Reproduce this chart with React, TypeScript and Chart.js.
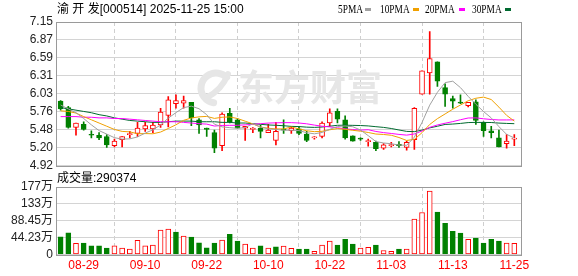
import React, { useEffect, useRef } from 'react';
import { Chart, registerables } from 'chart.js';
Chart.register(...registerables);

// ---- data ----
const opens = [5.92, 5.82, 5.51, 5.56, 5.40, 5.39, 5.37, 5.23, 5.32, 5.40, 5.42, 5.49, 5.49, 5.55, 5.70, 5.88, 5.89, 5.90, 5.63, 5.50, 5.43, 5.23, 5.73, 5.63, 5.50, 5.48, 5.50, 5.43, 5.31, 5.48, 5.46, 5.49, 5.41, 5.35, 5.37, 5.58, 5.76, 5.63, 5.38, 5.34, 5.29, 5.28, 5.19, 5.23, 5.25, 5.20, 5.32, 6.03, 6.36, 6.53, 6.13, 5.96, 5.90, 5.85, 5.91, 5.59, 5.46, 5.35, 5.26, 5.33];
const highs = [5.93, 5.84, 5.58, 5.60, 5.46, 5.43, 5.40, 5.33, 5.37, 5.45, 5.59, 5.59, 5.59, 5.81, 5.99, 6.02, 6.00, 5.90, 5.65, 5.50, 5.47, 5.74, 5.81, 5.65, 5.53, 5.51, 5.55, 5.56, 5.59, 5.63, 5.53, 5.52, 5.45, 5.37, 5.60, 5.80, 5.80, 5.69, 5.38, 5.35, 5.33, 5.30, 5.26, 5.28, 5.29, 5.30, 5.82, 6.39, 7.00, 6.53, 6.19, 6.00, 6.02, 5.90, 5.94, 5.60, 5.53, 5.47, 5.40, 5.40];
const lows = [5.78, 5.50, 5.39, 5.47, 5.35, 5.32, 5.20, 5.21, 5.21, 5.35, 5.37, 5.45, 5.43, 5.51, 5.52, 5.81, 5.81, 5.54, 5.42, 5.37, 5.12, 5.15, 5.58, 5.50, 5.31, 5.43, 5.35, 5.43, 5.24, 5.42, 5.42, 5.40, 5.29, 5.33, 5.35, 5.53, 5.58, 5.33, 5.30, 5.31, 5.22, 5.15, 5.17, 5.21, 5.20, 5.16, 5.17, 6.03, 6.03, 6.15, 5.84, 5.81, 5.88, 5.83, 5.56, 5.37, 5.35, 5.21, 5.19, 5.23];
const closes = [5.80, 5.51, 5.58, 5.48, 5.39, 5.35, 5.24, 5.30, 5.37, 5.41, 5.50, 5.54, 5.55, 5.75, 5.94, 5.93, 5.93, 5.66, 5.55, 5.48, 5.19, 5.72, 5.60, 5.50, 5.53, 5.50, 5.45, 5.47, 5.45, 5.47, 5.50, 5.42, 5.31, 5.36, 5.58, 5.74, 5.64, 5.35, 5.30, 5.33, 5.30, 5.18, 5.24, 5.24, 5.23, 5.28, 5.81, 6.39, 6.58, 6.23, 6.03, 5.92, 5.89, 5.90, 5.62, 5.46, 5.43, 5.21, 5.30, 5.34];

const ma5 = [5.86, 5.80, 5.74, 5.65, 5.552, 5.462, 5.408, 5.352, 5.33, 5.334, 5.364, 5.424, 5.474, 5.55, 5.656, 5.742, 5.82, 5.842, 5.802, 5.71, 5.562, 5.52, 5.508, 5.498, 5.508, 5.57, 5.516, 5.49, 5.48, 5.468, 5.468, 5.462, 5.43, 5.412, 5.434, 5.482, 5.526, 5.534, 5.522, 5.472, 5.384, 5.292, 5.27, 5.258, 5.238, 5.234, 5.36, 5.59, 5.858, 6.058, 6.208, 6.23, 6.13, 5.994, 5.872, 5.758, 5.66, 5.524, 5.404, 5.348];
const ma10 = [5.77, 5.76, 5.735, 5.68, 5.63, 5.58, 5.53, 5.48, 5.45, 5.443, 5.413, 5.416, 5.413, 5.44, 5.495, 5.553, 5.622, 5.658, 5.676, 5.683, 5.652, 5.67, 5.675, 5.65, 5.609, 5.566, 5.518, 5.499, 5.489, 5.488, 5.519, 5.489, 5.46, 5.446, 5.451, 5.475, 5.494, 5.482, 5.467, 5.453, 5.433, 5.409, 5.402, 5.39, 5.355, 5.309, 5.326, 5.43, 5.558, 5.648, 5.721, 5.795, 5.86, 5.926, 5.965, 5.983, 5.945, 5.827, 5.699, 5.61];
const ma20 = [5.68, 5.68, 5.68, 5.67, 5.67, 5.66, 5.66, 5.65, 5.65, 5.64, 5.63, 5.62, 5.61, 5.60, 5.60, 5.60, 5.59, 5.58, 5.57, 5.563, 5.533, 5.543, 5.544, 5.545, 5.552, 5.56, 5.57, 5.579, 5.583, 5.586, 5.586, 5.58, 5.568, 5.548, 5.53, 5.52, 5.506, 5.49, 5.478, 5.47, 5.476, 5.449, 5.431, 5.418, 5.403, 5.392, 5.41, 5.456, 5.513, 5.55, 5.577, 5.602, 5.631, 5.658, 5.66, 5.646, 5.635, 5.628, 5.628, 5.629];
const ma30 = [5.82, 5.80, 5.78, 5.76, 5.74, 5.71, 5.69, 5.66, 5.64, 5.62, 5.61, 5.60, 5.59, 5.59, 5.60, 5.61, 5.61, 5.61, 5.60, 5.60, 5.60, 5.59, 5.59, 5.58, 5.58, 5.57, 5.56, 5.55, 5.545, 5.538, 5.528, 5.525, 5.516, 5.512, 5.518, 5.531, 5.545, 5.546, 5.544, 5.541, 5.535, 5.523, 5.512, 5.495, 5.472, 5.45, 5.446, 5.47, 5.505, 5.53, 5.558, 5.564, 5.574, 5.587, 5.59, 5.589, 5.588, 5.579, 5.574, 5.57];

// volume in 万
const volumes = [46, 57, 29, 30, 23, 23, 17, 23, 17, 14, 37, 23, 24.5, 64, 66.5, 58.6, 48, 45.5, 30.5, 17.4, 30, 37.6, 53, 35, 27, 17, 23, 17, 20, 22, 16, 14, 14, 8, 24.5, 35, 24.5, 40, 27, 16.6, 19, 24.5, 10.5, 8, 14, 14, 93, 110, 166, 111, 82, 61, 56, 40, 43, 30, 40, 35, 30, 29.04];
const volUp = [0, 0, 1, 0, 0, 0, 0, 1, 1, 1, 1, 1, 1, 1, 1, 0, 1, 0, 0, 0, 0, 1, 0, 0, 1, 1, 0, 1, 0, 1, 1, 0, 0, 1, 1, 1, 0, 0, 0, 1, 1, 0, 1, 1, 0, 1, 1, 1, 1, 0, 0, 0, 0, 1, 0, 0, 0, 0, 1, 1];

const dateTickIdx = [3, 11, 19, 27, 35, 43, 51, 59];
const dateTickLabels = ['08-29', '09-10', '09-22', '10-10', '10-22', '11-03', '11-13', '11-25'];

const priceTickValues = [4.92, 5.19875, 5.4775, 5.75625, 6.035, 6.31375, 6.5925, 6.87125, 7.15];
const priceTickLabels = ['4.92', '5.20', '5.48', '5.76', '6.03', '6.31', '6.59', '6.87', '7.15'];

const volTickValues = [0, 44.23, 88.46, 132.69, 176.92];
const volTickLabels = ['0', '44.23万', '88.45万', '133万', '177万'];

const maLabels = ['5PMA', '10PMA', '20PMA', '30PMA'];
const maColors = ['#a0a0a0', '#f0a000', '#ff00ff', '#006a30'];

const RED = '#ff0000';
const GREEN = '#008000';
const X_MIN = -0.6;
const X_MAX = 60.0;
const FONT = '"Liberation Sans", "Noto Sans CJK SC", sans-serif';

const framePlugin = {
  id: 'frame',
  afterDraw(chart: any) {
    const { ctx, chartArea: a } = chart;
    ctx.save();
    ctx.strokeStyle = '#9a9a9a';
    ctx.lineWidth = 1;
    ctx.strokeRect(Math.round(a.left) + 0.5, Math.round(a.top) + 0.5, Math.round(a.right - a.left) - 1, Math.round(a.bottom - a.top));
    ctx.restore();
  },
};

const watermarkPlugin = {
  id: 'watermark',
  beforeDatasetsDraw(chart: any) {
    const { ctx } = chart;
    ctx.save();
    ctx.fillStyle = '#e6e6e6';
    ctx.strokeStyle = '#e6e6e6';
    ctx.lineCap = 'round';
    ctx.lineWidth = 7;
    ctx.beginPath();
    ctx.arc(216, 88, 15, Math.PI * 0.55, Math.PI * 1.75);
    ctx.stroke();
    ctx.lineWidth = 6;
    ctx.beginPath();
    ctx.moveTo(206, 98);
    ctx.quadraticCurveTo(222, 90, 228, 74);
    ctx.stroke();
    ctx.font = 'bold 36px "Noto Sans CJK SC", sans-serif';
    ctx.textBaseline = 'middle';
    ctx.fillText('东方财富', 238, 87);
    ctx.restore();
  },
};

const idx = closes.map((_, i) => i);

function xScale(showLabels: boolean): any {
  return {
    type: 'linear',
    min: X_MIN,
    max: X_MAX,
    offset: false,
    afterBuildTicks: (s: any) => {
      s.ticks = dateTickIdx.map((v) => ({ value: v }));
    },
    ticks: {
      display: showLabels,
      autoSkip: false,
      maxRotation: 0,
      color: RED,
      padding: 4,
      font: { size: 12, family: FONT },
      callback: (v: number) => dateTickLabels[dateTickIdx.indexOf(v)] ?? '',
    },
    grid: { color: '#cfcfcf', drawTicks: false, lineWidth: 1 },
    border: { display: false, dash: [4, 3] },
    afterFit: (s: any) => {
      s.height = showLabels ? 21.5 : 0;
    },
  };
}

function yScale(min: number, max: number, vals: number[], labels: string[]): any {
  return {
    type: 'linear',
    min,
    max,
    afterBuildTicks: (s: any) => {
      s.ticks = vals.map((v) => ({ value: v }));
    },
    ticks: {
      autoSkip: false,
      color: '#222',
      padding: 3,
      font: { size: 12, family: FONT },
      callback: (v: number) => labels[vals.indexOf(v)] ?? '',
    },
    grid: { color: '#d4d4d4', drawTicks: false },
    border: { display: false },
    afterFit: (s: any) => {
      s.width = 56;
    },
  };
}

export default function App() {
  const priceRef = useRef<HTMLCanvasElement>(null);
  const volRef = useRef<HTMLCanvasElement>(null);

  useEffect(() => {
    const up = idx.map((i) => closes[i] >= opens[i]);
    const lineDs = [ma5, ma10, ma20, ma30].map((arr, k) => ({
      type: 'line' as const,
      label: maLabels[k],
      data: idx.map((i) => ({ x: i, y: arr[i] })),
      borderColor: maColors[k],
      borderWidth: 1,
      pointRadius: 0,
      tension: 0,
      order: k,
    }));

    const price = new Chart(priceRef.current!, {
      type: 'bar',
      data: {
        datasets: [
          ...lineDs,
          {
            type: 'bar',
            label: 'body',
            data: idx.map((i) => ({ x: i, y: [opens[i], closes[i]] })) as any,
            backgroundColor: up.map((u) => (u ? '#ffffff' : GREEN)),
            borderColor: up.map((u) => (u ? RED : GREEN)),
            borderWidth: 1,
            borderSkipped: false,
            barThickness: 5,
            grouped: false,
            minBarLength: 1,
            order: 10,
          } as any,
          {
            type: 'bar',
            label: 'wick',
            data: idx.map((i) => ({ x: i, y: [lows[i], highs[i]] })) as any,
            backgroundColor: up.map((u) => (u ? RED : GREEN)),
            borderWidth: 0,
            barThickness: 1,
            grouped: false,
            order: 11,
          } as any,
        ],
      },
      options: {
        responsive: false,
        animation: false,
        events: [],
        layout: { padding: { top: 22, right: 56, bottom: 10.5, left: 0 } },
        plugins: { legend: { display: false }, tooltip: { enabled: false } },
        scales: {
          x: xScale(false),
          y: yScale(4.92, 7.15, priceTickValues, priceTickLabels),
        },
      } as any,
      plugins: [watermarkPlugin, framePlugin],
    });

    const vol = new Chart(volRef.current!, {
      type: 'bar',
      data: {
        datasets: [
          {
            label: 'vol',
            data: idx.map((i) => ({ x: i, y: volumes[i] })) as any,
            backgroundColor: volUp.map((u) => (u ? '#ffffff' : GREEN)),
            borderColor: volUp.map((u) => (u ? RED : GREEN)),
            borderWidth: 1,
            borderSkipped: false,
            barThickness: 5,
            grouped: false,
          } as any,
        ],
      },
      options: {
        responsive: false,
        animation: false,
        events: [],
        layout: { padding: { top: 11, right: 56, bottom: 0, left: 0 } },
        plugins: { legend: { display: false }, tooltip: { enabled: false } },
        scales: {
          x: xScale(true),
          y: yScale(0, 176.92, volTickValues, volTickLabels),
        },
      } as any,
      plugins: [framePlugin],
    });

    return () => {
      price.destroy();
      vol.destroy();
    };
  }, []);

  const legendPos = [338, 380, 425, 472];
  const boxPos = [365, 413, 459, 505];
  const textStyle: React.CSSProperties = {
    position: 'absolute',
    fontFamily: FONT,
    fontSize: 12,
    lineHeight: '16px',
    color: '#000',
    whiteSpace: 'pre',
  };

  return (
    <div style={{ position: 'absolute', left: 0, top: 0, width: 578, height: 276, background: '#fff', overflow: 'hidden' }}>
      <canvas ref={priceRef} width={578} height={176} style={{ position: 'absolute', left: 0, top: 0 }} />
      <canvas ref={volRef} width={578} height={100} style={{ position: 'absolute', left: 0, top: 176 }} />
      <div style={{ ...textStyle, left: 57, top: 1 }}>渝 开 发[000514] 2025-11-25 15:00</div>
      {maLabels.map((l, k) => (
        <React.Fragment key={l}>
          <div
            style={{
              ...textStyle,
              left: legendPos[k],
              top: 1,
              fontFamily: '"Liberation Serif", serif',
              transform: 'scaleX(0.78)',
              transformOrigin: 'left center',
            }}
          >
            {l}
          </div>
          <div style={{ position: 'absolute', left: boxPos[k], top: 8, width: 6, height: 3, background: maColors[k] }} />
        </React.Fragment>
      ))}
      <div style={{ ...textStyle, left: 57, top: 170 }}>成交量:290374</div>
    </div>
  );
}
